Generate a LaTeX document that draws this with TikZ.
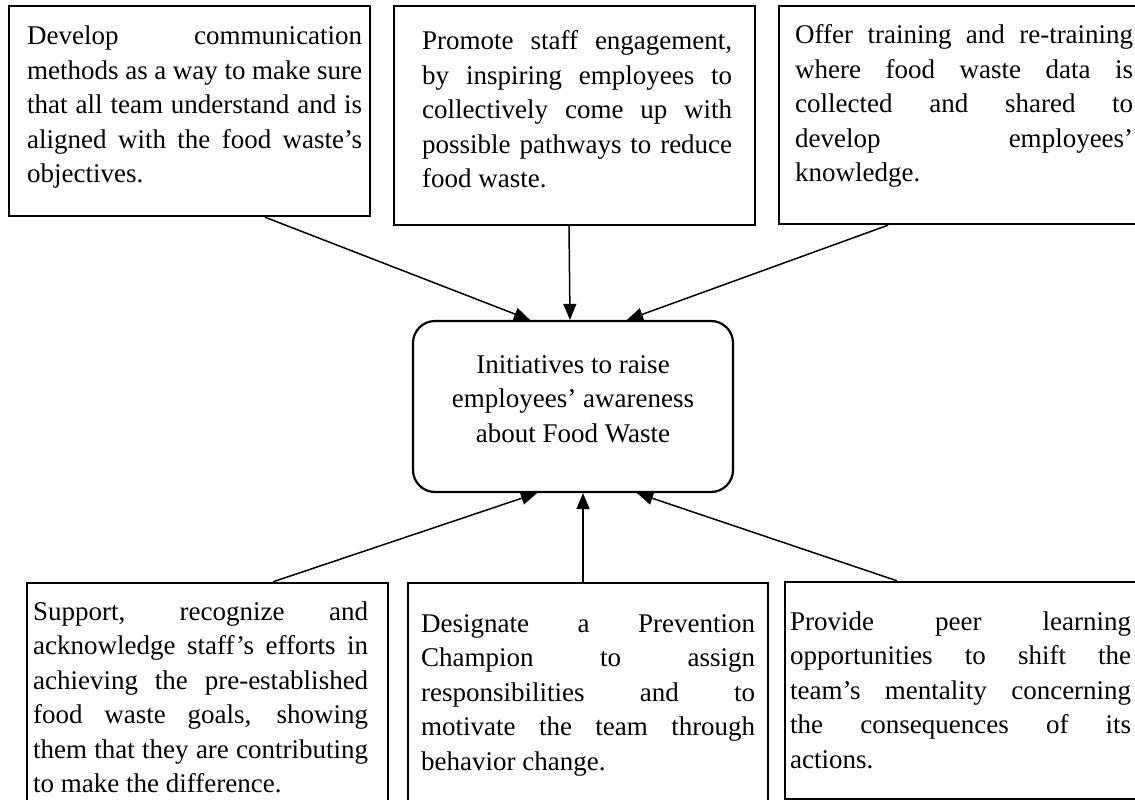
\documentclass[tikz,border=0pt]{standalone}
\usepackage{fontspec}
\setmainfont{Liberation Serif}
\usetikzlibrary{arrows.meta}

% one fully justified line of a box text
\newcommand{\jline}[1]{\makebox[\linewidth][s]{#1}}

\tikzset{
  box/.style={draw, line width=2.4pt, rectangle, inner sep=0pt},
  hubbox/.style={draw, line width=2.2pt, rectangle, rounded corners=22pt, inner sep=0pt},
  arr/.style={line width=1.5pt, -{Triangle[length=16pt,width=13pt]}},
  txt/.style={inner sep=0pt, font=\fontsize{27pt}{34.5pt}\selectfont},
}

\begin{document}
\begin{tikzpicture}[x=1pt, y=-1pt]
  \clip (0,0) rectangle (1135,800);
  \fill[white] (0,0) rectangle (1135,800);

  % frames
  \node[box, minimum width=361pt, minimum height=210pt] (tl) at (189.5,111) {};
  \node[box, minimum width=361pt, minimum height=219pt] (tm) at (574.5,115.5) {};
  \node[box, minimum width=363pt, minimum height=218pt] (tr) at (960.5,115) {};
  \node[hubbox, minimum width=320pt, minimum height=171pt] (hub) at (573,406.5) {};
  \node[box, minimum width=361pt, minimum height=227pt] (bl) at (207.5,696.5) {};
  \node[box, minimum width=360pt, minimum height=227pt] (bm) at (588,696.5) {};
  \node[box, minimum width=357pt, minimum height=217pt] (br) at (963.5,690.5) {};

  % texts
  \node[txt, anchor=base west] (tlt) at (27,45) {\parbox[t]{335pt}{%
    \jline{Develop communication}\\
    \jline{methods as a way to make sure}\\
    \jline{that all team understand and is}\\
    \jline{aligned with the food waste’s}\\
    objectives.}};
  \node[txt, anchor=base west] (tmt) at (422,50) {\parbox[t]{310pt}{%
    \jline{Promote staff engagement,}\\
    \jline{by inspiring employees to}\\
    \jline{collectively come up with}\\
    \jline{possible pathways to reduce}\\
    food waste.}};
  \node[txt, anchor=base west] (trt) at (795,44) {\parbox[t]{338pt}{%
    \jline{Offer training and re-training}\\
    \jline{where food waste data is}\\
    \jline{collected and shared to}\\
    \jline{develop employees’}\\
    knowledge.}};
  \node[txt, anchor=base] (hubt) at (573,373) {\parbox[t]{300pt}{\centering
    Initiatives to raise\\
    employees’ awareness\\
    about Food Waste}};
  \node[txt, anchor=base west] (blt) at (33,620) {\parbox[t]{335pt}{%
    \jline{Support, recognize and}\\
    \jline{acknowledge staff’s efforts in}\\
    \jline{achieving the pre-established}\\
    \jline{food waste goals, showing}\\
    \jline{them that they are contributing}\\
    to make the difference.}};
  \node[txt, anchor=base west] (bmt) at (421,632) {\parbox[t]{334pt}{%
    \jline{Designate a Prevention}\\
    \jline{Champion to assign}\\
    \jline{responsibilities and to}\\
    \jline{motivate the team through}\\
    behavior change.}};
  \node[txt, anchor=base west] (brt) at (790,630) {\parbox[t]{341pt}{%
    \jline{Provide peer learning}\\
    \jline{opportunities to shift the}\\
    \jline{team’s mentality concerning}\\
    \jline{the consequences of its}\\
    actions.}};

  % connectors into the central box
  \draw[arr] ([xshift=75.5pt]tl.south) -- ([xshift=-43pt]hub.north);
  \draw[arr] ([xshift=-5.5pt]tm.south) -- ([xshift=-3pt]hub.north);
  \draw[arr] ([xshift=-72.5pt]tr.south) -- ([xshift=54pt]hub.north);
  \draw[arr] ([xshift=65.5pt]bl.north) -- ([xshift=-36pt]hub.south);
  \draw[arr] ([xshift=-5pt]bm.north) -- ([xshift=10pt]hub.south);
  \draw[arr] ([xshift=-66.5pt]br.north) -- ([xshift=64pt]hub.south);
\end{tikzpicture}
\end{document}
